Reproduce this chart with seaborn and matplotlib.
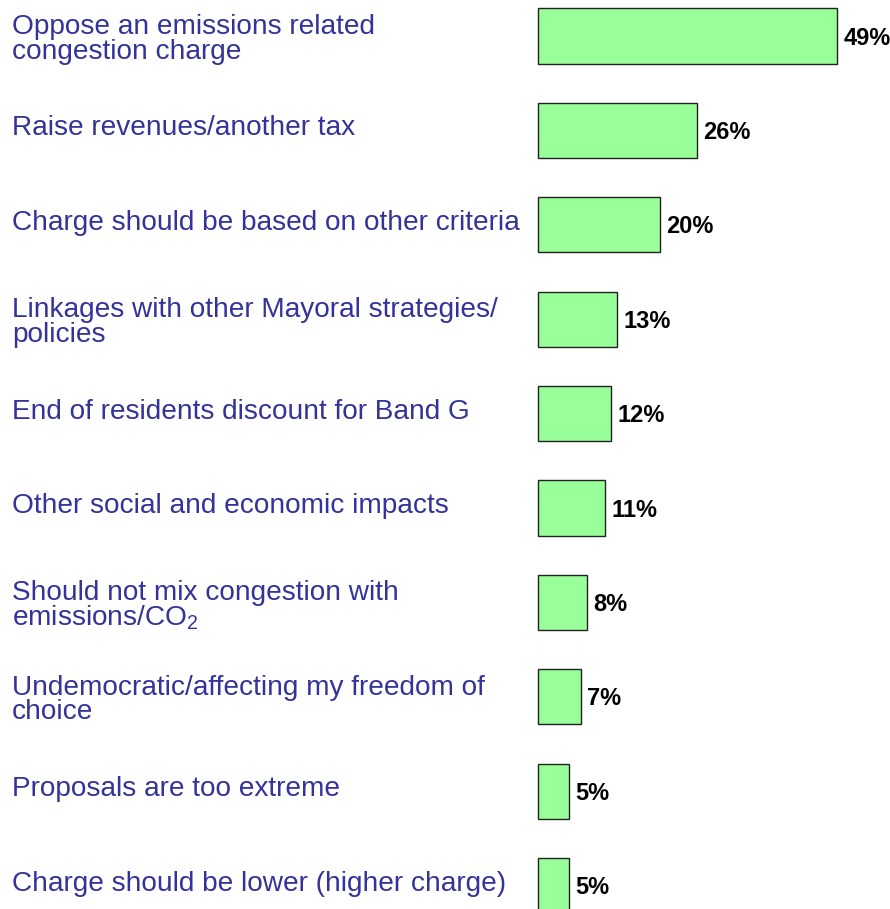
import matplotlib
matplotlib.use("Agg")
import matplotlib.pyplot as plt
import matplotlib.transforms as mtransforms
import seaborn as sns
import pandas as pd

sns.set_style("white")
plt.rcParams["font.family"] = ["Liberation Sans", "DejaVu Sans"]
plt.rcParams["mathtext.default"] = "regular"

reasons = [
    "Oppose an emissions related\ncongestion charge",
    "Raise revenues/another tax",
    "Charge should be based on other criteria",
    "Linkages with other Mayoral strategies/\npolicies",
    "End of residents discount for Band G",
    "Other social and economic impacts",
    "Should not mix congestion with\nemissions/CO$_2$",
    "Undemocratic/affecting my freedom of\nchoice",
    "Proposals are too extreme",
    "Charge should be lower (higher charge)",
]
shares = [49, 26, 20, 13, 12, 11, 8, 7, 5, 5]
share_labels = ["49%", "26%", "20%", "13%", "12%", "11%", "8%", "7%", "5%", "5%"]

df = pd.DataFrame({"reason": reasons, "share": shares})

W, H = 890, 909
fig = plt.figure(figsize=(W / 100, H / 100), dpi=100)
ax = fig.add_axes([0, 0, 1, 1])

sns.barplot(data=df, y="reason", x="share", orient="h", ax=ax,
            color="#99FF99", saturation=1, width=0.583,
            edgecolor="#222222", linewidth=1.0)

# pixel layout: bars start at x=538, 6.1 px per percentage point
px_per_unit = 6.1
x0 = 538
ax.set_xlim(-x0 / px_per_unit, (W - x0) / px_per_unit)
row_px = 94.4
first_center = 36
ax.set_ylim((H - first_center) / row_px, -first_center / row_px)

ax.set_axis_off()

trans = mtransforms.blended_transform_factory(ax.transAxes, ax.transData)
for i, lab in enumerate(reasons):
    two_line = "\n" in lab
    dy = -2.5 if two_line else 1.5
    ax.annotate(lab, (12 / W, i), xycoords=trans, xytext=(0, dy),
                textcoords="offset points", ha="left", va="center",
                fontsize=20.2, color="#333399", linespacing=0.92)

for i, (v, s) in enumerate(zip(shares, share_labels)):
    ax.annotate(s, (v, i), xytext=(4.5, -1.5), textcoords="offset points",
                ha="left", va="center", fontsize=17, fontweight="bold",
                color="black")

fig.savefig("out.png", dpi=100)
